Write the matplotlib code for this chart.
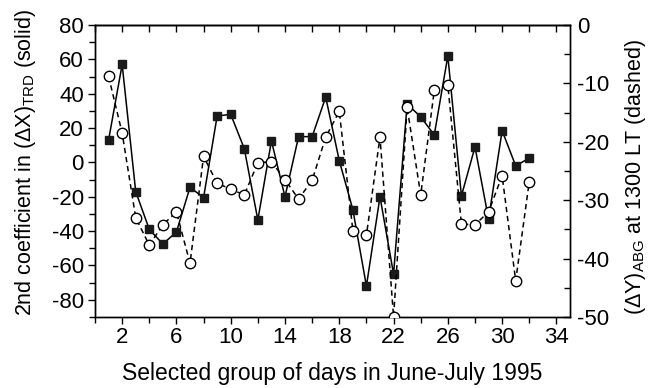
import matplotlib
matplotlib.use("Agg")
import matplotlib.pyplot as plt
from matplotlib.ticker import MultipleLocator, FixedLocator

plt.rcParams['font.family'] = ['Liberation Sans', 'DejaVu Sans']
plt.rcParams['mathtext.fontset'] = 'custom'
plt.rcParams['mathtext.rm'] = 'Liberation Sans'
plt.rcParams['mathtext.it'] = 'Liberation Sans'
plt.rcParams['mathtext.bf'] = 'Liberation Sans:bold'

days = list(range(1, 33))
trd_coef = [13, 57, -17, -39, -47.5, -40.5, -14.5, -20.5, 27, 28, 8, -33.5, 12.5,
            -20, 15, 15, 38, 1, -27.5, -72, -20, -65, 34, 26.5, 16, 62,
            -19.5, 9, -33, 18.5, -2, 2.5]
abg_dy = [-8.8, -18.5, -33, -37.7, -34.2, -32, -40.8, -22.5, -27.1, -28.1, -29.1,
          -23.6, -23.4, -26.5, -29.8, -26.6, -19.2, -14.8, -35.2, -36, -19.2, -50,
          -14.1, -29.1, -11.2, -10.3, -34.1, -34.2, -32, -25.8, -43.8, -26.8]
x_ticks = [2, 6, 10, 14, 18, 22, 26, 30, 34]
left_ticks = [80, 60, 40, 20, 0, -20, -40, -60, -80]
right_ticks = [0, -10, -20, -30, -40, -50]

fig = plt.figure(figsize=(6.63, 3.88), dpi=100)
ax = fig.add_axes([0.1433, 0.183, 0.7164, 0.7526])
ax2 = ax.twinx()

ax.plot(days, trd_coef, color='black', lw=1.1, marker='s', ms=6,
        mfc='#1a1a1a', mec='#1a1a1a', zorder=3)
ax2.plot(days, abg_dy, color='black', lw=1.1, ls=(0, (3.5, 2.5)), marker='o', ms=7.5,
         mfc='white', mec='black', mew=1.0, zorder=3)

ax.set_xlim(0, 35)
ax.set_ylim(-90, 80)
ax2.set_ylim(-50, 0)

ax.xaxis.set_major_locator(FixedLocator(x_ticks))
ax.xaxis.set_minor_locator(MultipleLocator(2))
ax.yaxis.set_major_locator(FixedLocator(left_ticks))
ax.yaxis.set_minor_locator(MultipleLocator(10))
ax2.yaxis.set_major_locator(FixedLocator(right_ticks))
ax2.yaxis.set_minor_locator(MultipleLocator(5))

fs = 16
ax.tick_params(axis='x', which='both', direction='out', top=False, labelsize=fs, pad=2)
ax.tick_params(axis='x', which='major', length=5, width=1)
ax.tick_params(axis='x', which='minor', length=4, width=1)
ax.tick_params(axis='y', which='both', direction='out', labelsize=fs, pad=3)
ax.tick_params(axis='y', which='major', length=5, width=1)
ax.tick_params(axis='y', which='minor', length=4, width=1)
ax2.tick_params(axis='y', which='both', direction='in', labelsize=fs, pad=5)
ax2.tick_params(axis='y', which='major', length=5, width=1)
ax2.tick_params(axis='y', which='minor', length=4, width=1)

# top ticks inward
secx = ax.secondary_xaxis('top')
secx.xaxis.set_major_locator(MultipleLocator(2))
secx.tick_params(axis='x', which='both', direction='in', length=5, width=1, labeltop=False)
secx.spines['top'].set_linewidth(1)

ax.set_yticklabels([str(v) for v in left_ticks])
ax2.set_yticklabels([str(v) for v in right_ticks])

for sp in list(ax.spines.values()) + list(ax2.spines.values()):
    sp.set_linewidth(1)

ax.set_xlabel('Selected group of days in June-July 1995', fontsize=16.5, labelpad=10)
ax.set_ylabel(r'2nd coefficient in $(\Delta\mathrm{X})_{\mathrm{TRD}}$ (solid)', fontsize=15.5, labelpad=10)
ax2.set_ylabel(r'$(\Delta\mathrm{Y})_{\mathrm{ABG}}$ at 1300 LT (dashed)', fontsize=15.5, labelpad=10)
ax.yaxis.label.set_y(0.53)
ax2.yaxis.label.set_y(0.48)

fig.savefig('out.png', dpi=100)
